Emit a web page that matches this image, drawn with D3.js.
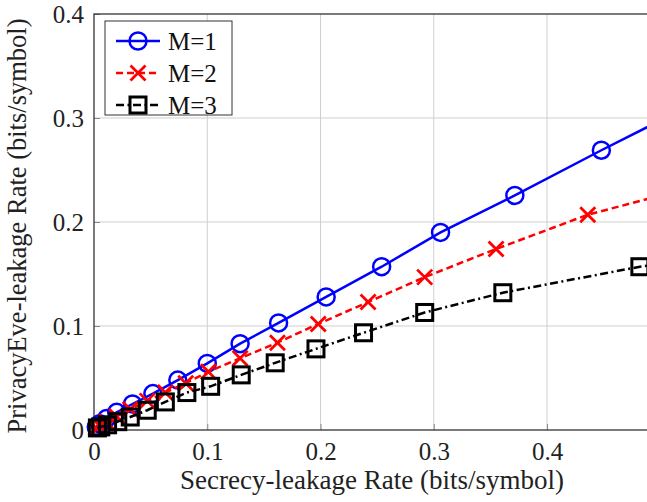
<!DOCTYPE html>
<html>
<head>
<meta charset="utf-8">
<script src="https://cdn.jsdelivr.net/npm/d3@7"></script>
<style>
  html, body { margin: 0; padding: 0; background: #fff; overflow: hidden; }
  svg { display: block; }
</style>
</head>
<body>
<svg id="chart" width="647" height="502"></svg>
<script>
// ---- data ----
const seriesNames = ["M=1", "M=2", "M=3"];
const m1x = [0.002, 0.005, 0.011, 0.020, 0.034, 0.052, 0.074, 0.100, 0.129, 0.163, 0.205, 0.254, 0.306, 0.3716, 0.448, 0.530];
const m1y = [0.003, 0.006, 0.011, 0.017, 0.025, 0.035, 0.048, 0.064, 0.083, 0.103, 0.128, 0.157, 0.190, 0.2255, 0.269, 0.314];
const m2x = [0.002, 0.005, 0.011, 0.020, 0.032, 0.047, 0.063, 0.081, 0.101, 0.129, 0.162, 0.198, 0.242, 0.292, 0.355, 0.436, 0.530];
const m2y = [0.002, 0.004, 0.008, 0.013, 0.020, 0.028, 0.036, 0.045, 0.056, 0.069, 0.084, 0.102, 0.123, 0.147, 0.174, 0.207, 0.234];
const m3x = [0.003, 0.006, 0.012, 0.021, 0.032, 0.047, 0.063, 0.082, 0.103, 0.130, 0.160, 0.196, 0.238, 0.292, 0.361, 0.482, 0.530];
const m3y = [0.002, 0.003, 0.005, 0.008, 0.0125, 0.019, 0.027, 0.036, 0.042, 0.053, 0.0646, 0.078, 0.0935, 0.113, 0.132, 0.157, 0.164];
const xTicks = [0, 0.1, 0.2, 0.3, 0.4];
const yTicks = [0, 0.1, 0.2, 0.3, 0.4];
const xLabel = "Secrecy-leakage Rate (bits/symbol)";
const yLabel = "PrivacyEve-leakage Rate (bits/symbol)";

// ---- layout ----
const svg = d3.select("#chart");
const L = 94, T = 14, B = 430, R = 660.25;
const x = d3.scaleLinear().domain([0, 0.5]).range([L, R]);
const y = d3.scaleLinear().domain([0, 0.4]).range([B, T]);
const serif = "'Liberation Serif', 'Times New Roman', serif";
const fmt = d => d === 0 ? "0" : d3.format(".1f")(d);

svg.append("defs").append("clipPath").attr("id", "plotclip")
  .append("rect").attr("x", L).attr("y", T).attr("width", R - L).attr("height", B - T);

// grid
const grid = svg.append("g");
grid.selectAll("line.gx").data(xTicks.filter(d => d > 0)).enter().append("line")
  .attr("x1", d => x(d)).attr("x2", d => x(d)).attr("y1", T).attr("y2", B)
  .attr("stroke", "#cfcfcf").attr("stroke-width", 1);
grid.selectAll("line.gy").data(yTicks.filter(d => d > 0 && d < 0.4)).enter().append("line")
  .attr("y1", d => y(d)).attr("y2", d => y(d)).attr("x1", L).attr("x2", R)
  .attr("stroke", "#cfcfcf").attr("stroke-width", 1);

// ticks (inward)
const xAxis = d3.axisBottom(x).tickValues(xTicks).tickSize(-6).tickPadding(13).tickFormat(fmt);
const yAxis = d3.axisLeft(y).tickValues(yTicks).tickSize(-6).tickPadding(10).tickFormat(fmt);
const gx = svg.append("g").attr("transform", `translate(0,${B})`).call(xAxis);
const gy = svg.append("g").attr("transform", `translate(${L},0)`).call(yAxis);
[gx, gy].forEach(g => {
  g.select(".domain").remove();
  g.selectAll(".tick line").attr("stroke", "#888").attr("stroke-width", 1);
  g.selectAll(".tick text").attr("font-family", serif).attr("font-size", 25).attr("fill", "#222");
});
gy.selectAll(".tick text").attr("dy", "0.35em");
gx.selectAll(".tick text").attr("dy", "0.68em");

// frame
svg.append("rect").attr("x", L).attr("y", T).attr("width", R - L).attr("height", B - T)
  .attr("fill", "none").attr("stroke", "#333").attr("stroke-width", 1.3);

// series
const series = [
  { name: seriesNames[0], xs: m1x, ys: m1y, color: "#0000ff", dash: null, mark: "circle" },
  { name: seriesNames[1], xs: m2x, ys: m2y, color: "#ff0000", dash: "7,4", mark: "cross" },
  { name: seriesNames[2], xs: m3x, ys: m3y, color: "#000000", dash: "8,3.5,2,3.5", mark: "square" }
];
const line = d3.line().x(d => x(d[0])).y(d => y(d[1]));

function drawMark(g, kind, color) {
  if (kind === "circle") {
    g.append("circle").attr("r", 8.5).attr("fill", "none").attr("stroke", color).attr("stroke-width", 2.5);
  } else if (kind === "cross") {
    const s = 7.5;
    g.append("path").attr("d", `M${-s},${-s}L${s},${s}M${-s},${s}L${s},${-s}`)
      .attr("stroke", color).attr("stroke-width", 2.8).attr("fill", "none");
  } else {
    g.append("rect").attr("x", -8).attr("y", -8).attr("width", 16).attr("height", 16)
      .attr("fill", "none").attr("stroke", color).attr("stroke-width", 3);
  }
}

series.forEach(s => {
  const pts = s.xs.map((v, i) => [v, s.ys[i]]);
  svg.append("path").datum(pts).attr("d", line).attr("clip-path", "url(#plotclip)")
    .attr("fill", "none").attr("stroke", s.color).attr("stroke-width", 2.5)
    .attr("stroke-dasharray", s.dash);
  pts.filter(p => p[0] <= 0.5).forEach(p => {
    const g = svg.append("g").attr("transform", `translate(${x(p[0])},${y(p[1])})`);
    drawMark(g, s.mark, s.color);
  });
});

// legend
const lg = svg.append("g");
lg.append("rect").attr("x", 105).attr("y", 21).attr("width", 127).attr("height", 94)
  .attr("fill", "#fff").attr("stroke", "#333").attr("stroke-width", 1);
series.forEach((s, i) => {
  const yy = 41 + i * 32;
  lg.append("line").attr("x1", 116).attr("x2", 160).attr("y1", yy).attr("y2", yy)
    .attr("stroke", s.color).attr("stroke-width", 2.5).attr("stroke-dasharray", s.dash);
  const g = lg.append("g").attr("transform", `translate(138,${yy})`);
  drawMark(g, s.mark, s.color);
  lg.append("text").attr("x", 168).attr("y", yy + 9).text(s.name)
    .attr("font-family", serif).attr("font-size", 25).attr("fill", "#111");
});

// axis labels
svg.append("text").attr("x", 372).attr("y", 489).attr("text-anchor", "middle")
  .attr("font-family", serif).attr("font-size", 27).attr("fill", "#222").text(xLabel);
svg.append("text").attr("transform", "translate(26,226) rotate(-90)").attr("text-anchor", "middle")
  .attr("font-family", serif).attr("font-size", 26.5).attr("fill", "#222").text(yLabel);
</script>
</body>
</html>
